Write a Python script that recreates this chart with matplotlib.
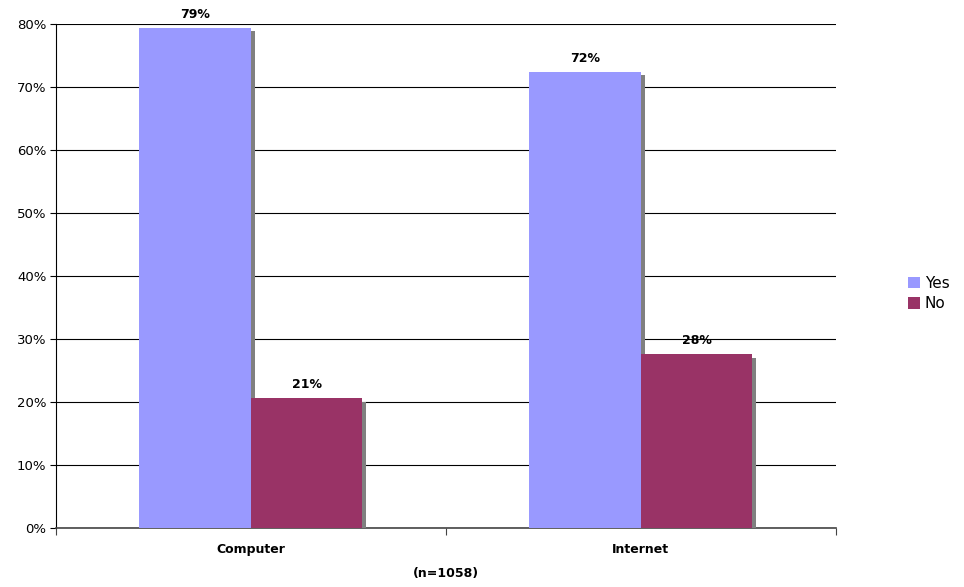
import matplotlib
matplotlib.use("Agg")
import matplotlib.pyplot as plt
import matplotlib.patheffects as pe
from matplotlib.patches import Patch
import numpy as np

categories = ["Computer", "Internet"]
series_names = ["Yes", "No"]
yes_values = [79.4, 72.4]
no_values = [20.6, 27.6]
yticks = [0, 10, 20, 30, 40, 50, 60, 70, 80]
colors = ["#9999FF", "#993366"]

fig = plt.figure(figsize=(9.64, 5.87), dpi=100)
ax = fig.add_axes([0.0581, 0.1005, 0.809, 0.8586])

x = np.arange(len(categories))
w = 0.286
shadow = [pe.SimplePatchShadow(offset=(2.6, -2.6), shadow_rgbFace="#808080", alpha=1.0), pe.Normal()]
for i, (vals, col, name) in enumerate(zip([yes_values, no_values], colors, series_names)):
    pos = x + (i - 0.5) * w
    ax.bar(pos, vals, width=w, color=col, zorder=3, path_effects=shadow, linewidth=0)
    for p, v in zip(pos, vals):
        ax.text(p, v + 1.1, f"{round(v)}%", ha="center", va="bottom", fontsize=9, fontweight="bold", zorder=5)

ax.set_xlim(-0.5, 1.5)
ax.set_ylim(0, 80)
ax.set_yticks(yticks)
ax.set_yticklabels([f"{t}%" for t in yticks], fontsize=9.5)
ax.yaxis.grid(True, color="black", linewidth=0.8, zorder=0)
ax.set_axisbelow(True)

ax.set_xticks([-0.5, 0.5, 1.5])
ax.set_xticklabels([])
ax.set_xticks(x, minor=True)
ax.set_xticklabels(categories, minor=True, fontsize=9, fontweight="bold")
ax.tick_params(axis="x", which="minor", length=0, pad=11)
ax.tick_params(axis="x", which="major", length=5, direction="out", color="#444444")
ax.tick_params(axis="y", length=4, direction="out", pad=3)
ax.set_xlabel("(n=1058)", fontsize=9, fontweight="bold", labelpad=8)

for s in ["top", "right"]:
    ax.spines[s].set_visible(False)
ax.spines["left"].set_color("black")
ax.spines["bottom"].set_color("#444444")
ax.spines["bottom"].set_linewidth(1.2)

handles = [Patch(facecolor=c, edgecolor="none", label=n) for c, n in zip(colors, series_names)]
fig.legend(handles=handles, loc="center left", bbox_to_anchor=(0.934, 0.50), frameon=False, fontsize=11,
           handlelength=0.8, handleheight=0.8, handletextpad=0.3, labelspacing=0.35, borderpad=0)

fig.savefig("out.png", dpi=100)
